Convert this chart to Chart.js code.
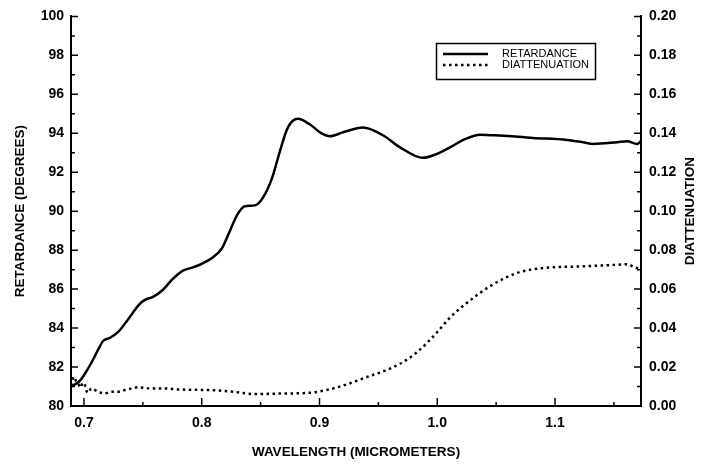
<!DOCTYPE html>
<html lang="en">
<head>
  <meta charset="utf-8">
  <title>Retardance and diattenuation</title>
  <style type="text/css">
    body {
      margin: 0;
      background-color: #ffffff;
    }
    #wrap {
      width: 701px;
      height: 464px;
    }
  </style>
  <script src="https://cdn.jsdelivr.net/npm/chart.js@4.4.1/dist/chart.umd.min.js"></script>
</head>
<body>
  <div id="wrap"><canvas id="graph" width="701" height="464"></canvas></div>
  <script>
    // values
    var retWavelength = [0.689, 0.692, 0.6966, 0.7023, 0.7079, 0.7121, 0.7164, 0.7221, 0.7291, 0.7363,
      0.7476, 0.7518, 0.7586, 0.7671, 0.775, 0.7841, 0.7917, 0.800, 0.8087, 0.8172,
      0.824, 0.830, 0.8367, 0.8452, 0.852, 0.8597, 0.8665, 0.8732, 0.8817, 0.8919,
      0.9021, 0.9089, 0.920, 0.9369, 0.9539, 0.9684, 0.9879, 0.998, 1.0108, 1.0235,
      1.0363, 1.0533, 1.0813, 1.1102, 1.1238, 1.1323, 1.1527, 1.1612, 1.1697, 1.173];
    var retardance = [81.0, 81.1, 81.3, 81.8, 82.4, 82.9, 83.35, 83.5, 83.8, 84.35,
      85.25, 85.45, 85.6, 85.97, 86.5, 86.95, 87.1, 87.3, 87.6, 88.1,
      89.0, 89.8, 90.25, 90.3, 90.7, 91.7, 93.1, 94.3, 94.74, 94.45,
      93.98, 93.85, 94.05, 94.3, 93.9, 93.28, 92.74, 92.9, 93.28, 93.7,
      93.93, 93.88, 93.76, 93.66, 93.54, 93.45, 93.54, 93.59, 93.45, 93.6];

    var diaWavelength = [0.689, 0.6915, 0.6935, 0.695, 0.697, 0.699, 0.7008, 0.703, 0.7065, 0.7119,
      0.7178, 0.7235, 0.7289, 0.7348, 0.7405, 0.7459, 0.7575, 0.7688, 0.7798, 0.795,
      0.807, 0.824, 0.8467, 0.8665, 0.8919, 0.9115, 0.925, 0.9403, 0.955, 0.9684,
      0.9828, 0.9998, 1.0108, 1.0253, 1.0448, 1.0677, 1.0898, 1.1238, 1.1527, 1.1612,
      1.1697, 1.173];
    var diattenuation = [0.0105, 0.015, 0.0125, 0.0116, 0.0095, 0.012, 0.0107, 0.0068, 0.009, 0.0073,
      0.0065, 0.0073, 0.0073, 0.0082, 0.009, 0.0096, 0.009, 0.009, 0.0085, 0.0083,
      0.0082, 0.0075, 0.0061, 0.0064, 0.0068, 0.009, 0.0115, 0.0149, 0.018, 0.0217,
      0.0276, 0.0378, 0.0454, 0.053, 0.0615, 0.0683, 0.0708, 0.0717, 0.0725, 0.0728,
      0.0708, 0.071];

    var xTicks = [0.7, 0.8, 0.9, 1.0, 1.1];
    var leftTicks = [80, 82, 84, 86, 88, 90, 92, 94, 96, 98, 100];
    var rightTicks = [0.00, 0.02, 0.04, 0.06, 0.08, 0.10, 0.12, 0.14, 0.16, 0.18, 0.20];

    var seriesNames = ['RETARDANCE', 'DIATTENUATION'];
    var dotDash = [2.5, 3.5];
    var FONT = '"Liberation Sans", Arial, sans-serif';

    function toPoints(xs, ys) {
      var pts = [];
      for (var i = 0; i < xs.length; i++) {
        pts.push({ x: xs[i], y: ys[i] });
      }
      return pts;
    }

    // ticks pointing into the plot, with minor ticks in between
    var innerTicks = {
      id: 'innerTicks',
      afterDraw: function (chart) {
        var ctx = chart.ctx;
        var a = chart.chartArea;
        var sx = chart.scales.x, sl = chart.scales.y, sr = chart.scales.y2;
        ctx.save();
        ctx.strokeStyle = '#000';
        ctx.lineWidth = 1.5;
        ctx.beginPath();
        for (var i = 0; i < xTicks.length; i++) {
          var px = sx.getPixelForValue(xTicks[i]);
          ctx.moveTo(px, a.bottom); ctx.lineTo(px, a.bottom - 8);
          var mx = sx.getPixelForValue(xTicks[i] + 0.05);
          if (mx < a.right) { ctx.moveTo(mx, a.bottom); ctx.lineTo(mx, a.bottom - 4); }
        }
        for (var j = 0; j < leftTicks.length; j++) {
          var py = sl.getPixelForValue(leftTicks[j]);
          ctx.moveTo(a.left, py); ctx.lineTo(a.left + 7, py);
          if (j < leftTicks.length - 1) {
            var my = sl.getPixelForValue(leftTicks[j] + 1);
            ctx.moveTo(a.left, my); ctx.lineTo(a.left + 4, my);
          }
        }
        for (var k = 0; k < rightTicks.length; k++) {
          var ry = sr.getPixelForValue(rightTicks[k]);
          ctx.moveTo(a.right, ry); ctx.lineTo(a.right - 7, ry);
          if (k < rightTicks.length - 1) {
            var rmy = sr.getPixelForValue(rightTicks[k] + 0.01);
            ctx.moveTo(a.right, rmy); ctx.lineTo(a.right - 4, rmy);
          }
        }
        ctx.stroke();

        // right title reads bottom to top
        ctx.fillStyle = '#000';
        ctx.font = 'bold 13.5px ' + FONT;
        ctx.textAlign = 'center';
        ctx.textBaseline = 'middle';
        ctx.translate(690, (a.top + a.bottom) / 2);
        ctx.rotate(-Math.PI / 2);
        ctx.fillText('DIATTENUATION', 0, 0);
        ctx.restore();

        // legend box
        ctx.save();
        ctx.strokeStyle = '#000';
        ctx.lineWidth = 1.5;
        ctx.strokeRect(436.5, 43.5, 159, 36);
        ctx.lineWidth = 2.5;
        ctx.beginPath();
        ctx.moveTo(443, 54); ctx.lineTo(488, 54);
        ctx.stroke();
        ctx.setLineDash(dotDash);
        ctx.beginPath();
        ctx.moveTo(443, 65); ctx.lineTo(488, 65);
        ctx.stroke();
        ctx.setLineDash([]);
        ctx.fillStyle = '#000';
        ctx.font = '11px ' + FONT;
        ctx.textBaseline = 'middle';
        ctx.fillText(seriesNames[0], 502, 54);
        ctx.fillText(seriesNames[1], 502, 65);
        ctx.restore();
      }
    };

    var ctx = document.getElementById('graph').getContext('2d');
    var myChart = new Chart(ctx, {
      type: 'line',
      data: {
        datasets: [
          {
            label: seriesNames[0],
            data: toPoints(retWavelength, retardance),
            yAxisID: 'y',
            borderColor: '#000',
            borderWidth: 2.5,
            pointRadius: 0,
            cubicInterpolationMode: 'monotone'
          },
          {
            label: seriesNames[1],
            data: toPoints(diaWavelength, diattenuation),
            yAxisID: 'y2',
            borderColor: '#000',
            borderWidth: 2.5,
            borderDash: dotDash,
            borderCapStyle: 'butt',
            pointRadius: 0,
            cubicInterpolationMode: 'monotone'
          }
        ]
      },
      options: {
        responsive: false,
        animation: false,
        layout: { padding: { top: 15, left: 0, right: 0, bottom: 0 } },
        plugins: {
          legend: { display: false },
          tooltip: { enabled: false }
        },
        scales: {
          x: {
            type: 'linear',
            min: 0.689,
            max: 1.173,
            afterBuildTicks: function (scale) {
              scale.ticks = xTicks.map(function (v) { return { value: v }; });
            },
            afterFit: function (scale) { scale.height = 58; },
            grid: { display: false, drawTicks: false },
            border: { display: true, color: '#000', width: 2 },
            ticks: {
              color: '#000',
              padding: 9,
              maxRotation: 0,
              font: { family: FONT, size: 14, weight: 'bold' },
              callback: function (v) { return Number(v).toFixed(1); }
            },
            title: {
              display: true,
              text: 'WAVELENGTH (MICROMETERS)',
              color: '#000',
              padding: { top: 0, bottom: 4 },
              font: { family: FONT, size: 13.5, weight: 'bold' }
            }
          },
          y: {
            position: 'left',
            min: 80,
            max: 100,
            afterBuildTicks: function (scale) {
              scale.ticks = leftTicks.map(function (v) { return { value: v }; });
            },
            afterFit: function (scale) { scale.width = 71; },
            grid: { display: false, drawTicks: false },
            border: { display: true, color: '#000', width: 2 },
            ticks: {
              color: '#000',
              padding: 7,
              font: { family: FONT, size: 14, weight: 'bold' }
            },
            title: {
              display: true,
              text: 'RETARDANCE (DEGREES)',
              color: '#000',
              padding: { top: 12, bottom: 0 },
              font: { family: FONT, size: 13.5, weight: 'bold' }
            }
          },
          y2: {
            position: 'right',
            min: 0,
            max: 0.2,
            afterBuildTicks: function (scale) {
              scale.ticks = rightTicks.map(function (v) { return { value: v }; });
            },
            afterFit: function (scale) { scale.width = 60; },
            grid: { display: false, drawTicks: false },
            border: { display: true, color: '#000', width: 2 },
            ticks: {
              color: '#000',
              padding: 8,
              font: { family: FONT, size: 14, weight: 'bold' },
              callback: function (v) { return Number(v).toFixed(2); }
            }
          }
        }
      },
      plugins: [innerTicks]
    });
  </script>
</body>
</html>
